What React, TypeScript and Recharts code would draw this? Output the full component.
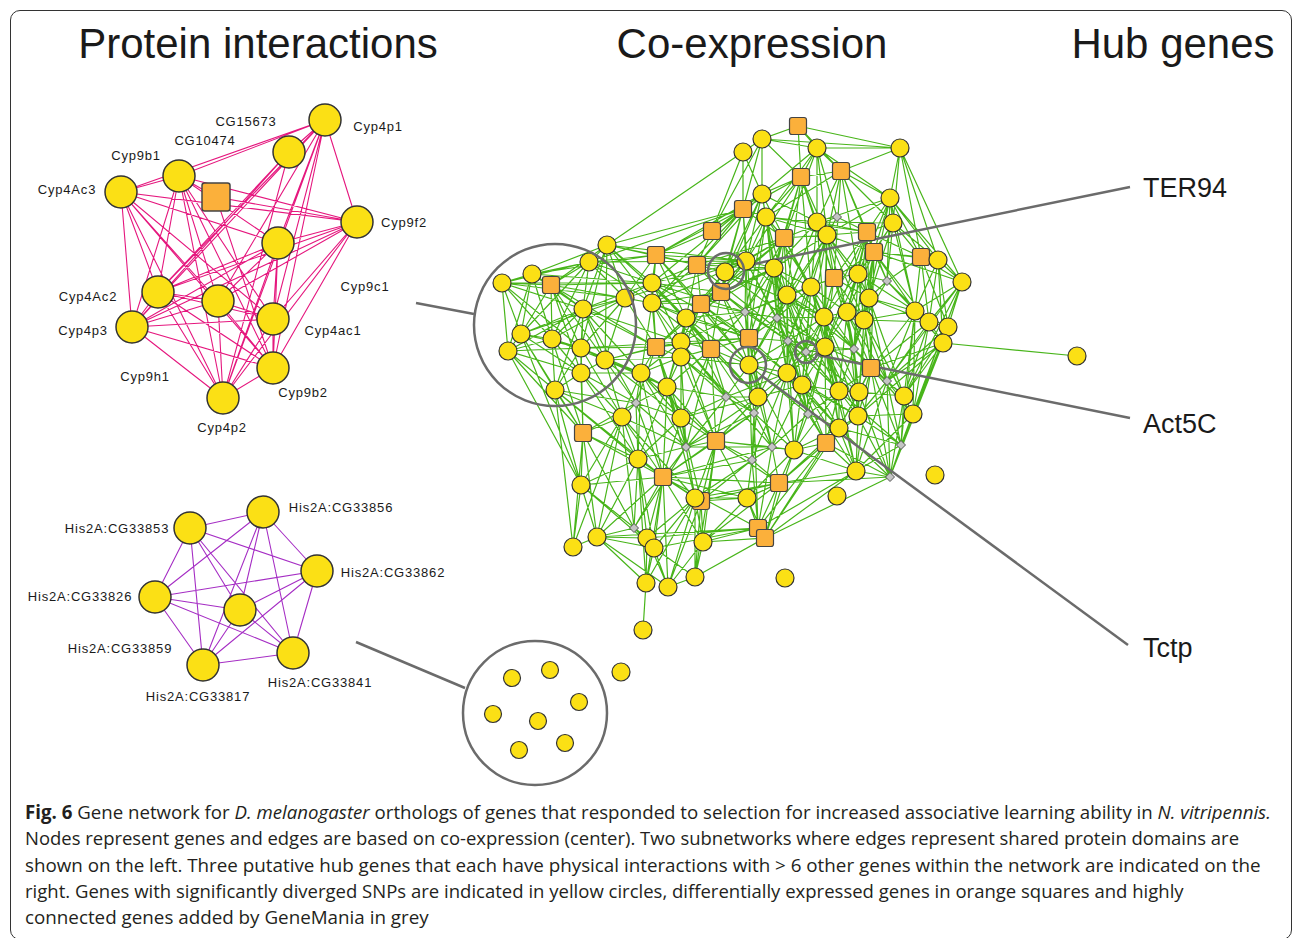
import React, { useLayoutEffect, useRef, useState } from 'react';
import { ComposedChart, Line, Scatter, XAxis, YAxis, ReferenceLine, ReferenceDot } from 'recharts';

const W = 1293;
const H = 938;

// section titles and hub labels
const titles = [
  { x: 258, y: 58, text: 'Protein interactions' },
  { x: 752, y: 58, text: 'Co-expression' },
  { x: 1173, y: 58, text: 'Hub genes' },
];
const hubLabels = [
  { x: 1143, y: 197, text: 'TER94' },
  { x: 1143, y: 433, text: 'Act5C' },
  { x: 1143, y: 657, text: 'Tctp' },
];

// protein interaction subnetwork (Cyp genes)
const cypNodes = [
  { x: 325, y: 120 }, { x: 289, y: 152 }, { x: 179, y: 176 }, { x: 121, y: 192 },
  { x: 216, y: 197 }, { x: 357, y: 222 }, { x: 278, y: 243 }, { x: 158, y: 292 },
  { x: 218, y: 301 }, { x: 273, y: 319 }, { x: 132, y: 327 }, { x: 273, y: 368 },
  { x: 223, y: 398 },
];
const cypSquare = [4];
const cypEdges: [number, number][] = [
  [0, 3], [0, 2], [0, 1], [0, 5], [0, 6], [0, 9], [0, 11], [0, 12], [0, 8], [0, 7], [0, 10],
  [1, 7], [1, 10], [1, 12],
  [2, 3], [2, 4], [2, 5], [2, 6], [2, 7], [2, 8], [2, 9], [2, 10], [2, 11], [2, 12],
  [3, 5], [3, 6], [3, 7], [3, 8], [3, 9], [3, 10], [3, 11], [3, 12],
  [4, 5], [4, 11],
  [5, 6], [5, 7], [5, 8], [5, 9], [5, 10], [5, 11], [5, 12],
  [6, 7], [6, 8], [6, 9], [6, 10], [6, 11], [6, 12],
  [7, 8], [7, 9], [7, 10], [7, 11], [7, 12],
  [8, 9], [8, 10], [8, 11], [8, 12],
  [9, 10], [9, 11], [9, 12],
  [10, 11], [10, 12], [11, 12],
];
const cypLabels = [
  { x: 246, y: 126, text: 'CG15673' }, { x: 378, y: 131, text: 'Cyp4p1' },
  { x: 205, y: 145, text: 'CG10474' }, { x: 136, y: 160, text: 'Cyp9b1' },
  { x: 67, y: 194, text: 'Cyp4Ac3' }, { x: 404, y: 227, text: 'Cyp9f2' },
  { x: 365, y: 291, text: 'Cyp9c1' }, { x: 88, y: 301, text: 'Cyp4Ac2' },
  { x: 83, y: 335, text: 'Cyp4p3' }, { x: 333, y: 335, text: 'Cyp4ac1' },
  { x: 145, y: 381, text: 'Cyp9h1' }, { x: 303, y: 397, text: 'Cyp9b2' },
  { x: 222, y: 432, text: 'Cyp4p2' },
];

// protein interaction subnetwork (His2A genes)
const hisNodes = [
  { x: 263, y: 512 }, { x: 190, y: 528 }, { x: 317, y: 571 }, { x: 155, y: 597 },
  { x: 240, y: 610 }, { x: 203, y: 665 }, { x: 293, y: 653 },
];
const hisEdges: [number, number][] = [
  [0, 1], [0, 2], [0, 3], [0, 4], [0, 5], [0, 6],
  [1, 2], [1, 3], [1, 4], [1, 5], [1, 6],
  [2, 3], [2, 4], [2, 5], [2, 6],
  [3, 4], [3, 5], [3, 6],
  [4, 5], [4, 6], [5, 6],
];
const hisLabels = [
  { x: 341, y: 512, text: 'His2A:CG33856' }, { x: 117, y: 533, text: 'His2A:CG33853' },
  { x: 393, y: 577, text: 'His2A:CG33862' }, { x: 80, y: 601, text: 'His2A:CG33826' },
  { x: 120, y: 653, text: 'His2A:CG33859' }, { x: 198, y: 701, text: 'His2A:CG33817' },
  { x: 320, y: 687, text: 'His2A:CG33841' },
];

// co-expression network: c = SNP gene, s = expressed gene, d = GeneMania gene
const coNodes: [number, number, string][] = [
  [743, 152, 'c'], [762, 139, 'c'], [798, 126, 's'], [817, 148, 'c'], [900, 148, 'c'],
  [801, 177, 's'], [841, 171, 's'], [762, 194, 'c'], [890, 198, 'c'], [743, 209, 's'],
  [766, 217, 'c'], [817, 222, 'c'], [837, 217, 'd'], [827, 235, 'c'], [893, 223, 'c'],
  [784, 238, 's'], [867, 232, 's'], [874, 252, 's'], [921, 257, 's'], [938, 260, 'c'],
  [746, 261, 'c'], [774, 268, 'c'], [962, 282, 'c'], [834, 278, 's'], [858, 274, 'c'],
  [887, 281, 'd'], [811, 287, 'c'], [787, 295, 'c'], [869, 298, 'c'], [745, 312, 'd'],
  [777, 318, 'd'], [824, 317, 'c'], [847, 312, 'c'], [864, 320, 'c'], [915, 311, 'c'],
  [929, 322, 'c'], [948, 327, 'c'], [943, 343, 'c'], [749, 338, 's'], [788, 341, 'd'],
  [806, 352, 'd'], [825, 347, 'c'], [854, 349, 'd'], [1077, 356, 'c'], [749, 365, 'c'],
  [871, 368, 's'], [887, 381, 'd'], [787, 373, 'c'], [802, 385, 'c'], [758, 397, 'c'],
  [839, 391, 'c'], [859, 392, 'c'], [904, 396, 'c'], [754, 413, 'd'], [808, 414, 'd'],
  [858, 416, 'c'], [913, 414, 'c'], [839, 428, 'c'], [772, 447, 'd'], [752, 460, 'd'],
  [794, 450, 'c'], [826, 443, 's'], [901, 445, 'd'], [856, 471, 'c'], [890, 477, 'd'],
  [935, 475, 'c'], [779, 483, 's'], [747, 498, 'c'], [837, 496, 'c'], [758, 528, 's'],
  [765, 538, 's'], [607, 245, 'c'], [589, 262, 'c'], [532, 274, 'c'], [502, 283, 'c'],
  [551, 285, 's'], [656, 255, 's'], [697, 265, 's'], [725, 272, 'c'], [721, 292, 's'],
  [652, 283, 'c'], [625, 298, 'c'], [652, 303, 'c'], [701, 304, 's'], [583, 309, 'c'],
  [686, 318, 'c'], [521, 334, 'c'], [552, 339, 'c'], [508, 351, 'c'], [581, 348, 'c'],
  [605, 360, 'c'], [656, 347, 's'], [681, 342, 'c'], [681, 357, 'c'], [711, 349, 's'],
  [581, 373, 'c'], [555, 390, 'c'], [641, 373, 'c'], [667, 387, 'c'], [636, 403, 'd'],
  [726, 397, 'd'], [622, 417, 'c'], [681, 418, 'c'], [583, 433, 's'], [716, 441, 's'],
  [686, 447, 'd'], [638, 459, 'c'], [663, 477, 's'], [581, 485, 'c'], [695, 498, 'c'],
  [701, 501, 's'], [634, 528, 'd'], [597, 537, 'c'], [573, 547, 'c'], [647, 538, 'c'],
  [654, 548, 'c'], [703, 542, 'c'], [646, 583, 'c'], [668, 587, 'c'], [695, 577, 'c'],
  [643, 630, 'c'], [621, 672, 'c'], [785, 578, 'c'], [712, 231, 's'],
];
const coAdjacency: [number, number[]][] = [
  [0, [71, 1, 9, 123, 7]],
  [1, [2, 3, 4, 7, 5, 9, 123]],
  [2, [3, 4, 5, 6]],
  [3, [4, 5, 6, 7, 8, 12, 10, 11, 13, 21]],
  [4, [8, 6, 18, 19, 22, 14]],
  [5, [6, 7, 10, 11, 13, 15, 9, 20, 21, 26, 27, 23]],
  [6, [8, 11, 13, 16, 17, 14, 10, 23, 24]],
  [7, [9, 10, 15, 123, 76, 77, 20, 11, 21, 78, 79]],
  [8, [14, 16, 17, 18, 19, 22, 24, 25, 11, 13, 28, 34]],
  [9, [76, 77, 123, 10, 15, 20, 71, 72, 80, 49, 78, 79, 82]],
  [10, [11, 13, 15, 16, 21, 26, 27, 20, 78, 30, 29, 38, 39]],
  [11, [13, 14, 16, 23, 24, 26, 31, 21, 27, 30]],
  [12, [13, 16, 15]],
  [13, [15, 16, 17, 23, 24, 26, 27, 31, 32, 33, 21, 40, 28, 30, 39, 41]],
  [14, [17, 18, 19, 24, 25, 28, 34, 16]],
  [15, [20, 21, 26, 27, 77, 78, 79, 30, 29, 40, 31, 38, 44, 83]],
  [16, [17, 18, 24, 25, 28, 32, 33, 23, 31, 41, 42]],
  [17, [18, 19, 22, 23, 24, 25, 28, 34, 35, 32, 33, 42, 45]],
  [18, [19, 22, 34, 35, 36, 25]],
  [19, [22, 34, 35, 36, 37]],
  [20, [21, 76, 77, 78, 79, 80, 81, 82, 83, 29, 71, 72, 44, 30, 39, 27]],
  [21, [26, 27, 29, 30, 31, 78, 79, 83, 85, 44, 39, 40, 47]],
  [22, [35, 36, 37, 52, 56, 34, 46, 62]],
  [23, [24, 26, 27, 28, 31, 32, 33, 41, 42]],
  [24, [25, 28, 31, 32, 33, 34, 41, 42, 45]],
  [25, [28, 33, 34, 35]],
  [26, [27, 29, 30, 31, 32, 39, 40, 41, 47, 42, 48, 50]],
  [27, [29, 30, 31, 38, 39, 40, 47, 48, 44, 41, 42, 50]],
  [28, [32, 33, 34, 35, 45, 42, 46, 52, 51]],
  [29, [30, 38, 39, 44, 83, 85, 94, 92, 53]],
  [30, [31, 38, 39, 40, 41, 44, 47, 48, 49, 50]],
  [31, [32, 33, 39, 40, 41, 42, 47, 48, 50, 45, 51, 55, 57]],
  [32, [33, 41, 42, 45, 50, 51, 55, 46]],
  [33, [34, 35, 42, 45, 51, 55, 46, 52, 56]],
  [34, [35, 36, 37, 45, 46, 52, 56, 62]],
  [35, [36, 37, 45, 46, 52, 56]],
  [36, [37, 52, 56, 46, 62, 64]],
  [37, [43, 45, 46, 52, 56, 55, 62, 64]],
  [38, [39, 44, 47, 49, 91, 92, 93, 94, 85, 58]],
  [39, [40, 41, 44, 47, 48, 49, 50, 54, 57, 60]],
  [40, [41, 42, 44, 47, 48, 50, 51, 54]],
  [41, [42, 45, 47, 48, 50, 51, 55, 57, 54, 60, 61, 63]],
  [42, [45, 46, 50, 51, 55]],
  [44, [47, 48, 49, 53, 54, 58, 59, 60, 100, 94, 93]],
  [45, [46, 50, 51, 52, 55, 56, 57, 63, 62, 64]],
  [46, [52, 56, 62, 64, 55, 63]],
  [47, [48, 49, 53, 54, 60, 61, 58, 57, 55, 59]],
  [48, [49, 50, 54, 57, 60, 61, 55, 63, 58]],
  [49, [53, 58, 59, 100, 104, 102, 105]],
  [50, [51, 54, 55, 57, 61, 63, 60, 62]],
  [51, [55, 57, 63, 64, 52]],
  [52, [56, 62, 64]],
  [53, [58, 59, 60, 100, 104, 105, 107]],
  [54, [57, 58, 60, 61]],
  [55, [57, 61, 63, 64, 62, 56]],
  [56, [62, 64, 63]],
  [57, [60, 61, 63, 66, 64, 62]],
  [58, [59, 60, 66, 104, 107, 109]],
  [59, [66, 67, 104, 107, 110, 69]],
  [60, [61, 66, 67, 63]],
  [61, [63, 66, 69, 70, 64]],
  [62, [64, 63]],
  [63, [64, 66, 69, 70]],
  [64, [66, 70]],
  [66, [67, 69, 70, 116, 109, 58, 104, 107, 110]],
  [67, [69, 70, 109, 110, 116, 104, 107, 59]],
  [69, [70, 116, 114, 115, 112, 59, 58, 53, 107]],
  [70, [116, 119, 60, 63, 57]],
  [71, [72, 73, 76, 80, 81, 84, 89, 90, 75, 77, 82, 85]],
  [72, [73, 74, 75, 80, 81, 84, 86, 87, 76, 82]],
  [73, [74, 75, 84, 86, 87, 88, 80, 76]],
  [74, [75, 86, 88, 87, 89, 80, 84, 81]],
  [75, [80, 81, 84, 86, 87, 89, 90, 95, 82, 91]],
  [76, [77, 80, 81, 82, 83, 85, 123, 44, 20, 9]],
  [77, [78, 79, 80, 82, 83, 85, 123, 40, 15, 21]],
  [78, [79, 83, 85, 31, 41]],
  [79, [80, 82, 83, 85, 91, 92, 39, 29, 38, 94, 44]],
  [80, [81, 82, 84, 91, 92, 85, 94, 38, 29]],
  [81, [82, 84, 87, 89, 90, 91]],
  [82, [83, 85, 91, 92, 93, 97, 94, 38]],
  [83, [85, 91, 92, 93, 94, 47, 29, 38, 44, 30]],
  [84, [86, 87, 89, 90, 95, 96, 91, 92, 97, 99]],
  [85, [91, 92, 93, 94, 98, 49, 38, 29, 44, 100]],
  [86, [87, 88, 89, 96, 103, 108, 84, 95, 81]],
  [87, [88, 89, 90, 95, 96, 103]],
  [88, [89, 95, 96, 108, 84, 103]],
  [89, [90, 95, 96, 97, 103, 91, 92, 98, 101]],
  [90, [91, 95, 97, 98, 99, 101, 92, 93, 102]],
  [91, [92, 93, 97, 98, 99, 102, 105]],
  [92, [93, 94, 97, 98, 102, 58, 100, 104]],
  [93, [94, 97, 98, 100, 102, 53, 104, 105]],
  [94, [98, 100, 102, 104, 105, 49, 53]],
  [95, [96, 99, 101, 103, 97, 106]],
  [96, [103, 101, 108, 99, 106, 107]],
  [97, [98, 99, 101, 102, 106, 105, 104, 107]],
  [98, [99, 100, 102, 105, 106, 107, 104, 109]],
  [99, [101, 106, 103, 107, 102, 105]],
  [100, [102, 104, 105, 107, 47]],
  [101, [103, 106, 107, 108, 111, 112, 105, 109]],
  [102, [104, 105, 106, 107, 109, 110, 116]],
  [103, [106, 108, 112, 113, 111, 107]],
  [104, [105, 107, 109, 110, 116, 58, 59, 60]],
  [105, [106, 107, 109, 111, 58, 53]],
  [106, [107, 108, 111, 114, 115, 109, 112]],
  [107, [108, 109, 110, 111, 112, 114, 115, 116]],
  [108, [112, 113, 114, 115, 96]],
  [109, [110, 116, 114, 115, 119]],
  [110, [116, 119, 118]],
  [111, [112, 114, 115]],
  [112, [113, 114, 115, 117, 118]],
  [113, [103, 96, 101]],
  [114, [115, 117, 118]],
  [115, [117, 118, 119]],
  [116, [119, 118]],
  [117, [120, 107, 106, 109]],
  [118, [109, 107]],
  [119, [118, 104]],
];

// unconnected genes in the lower circle
const looseNodes = [
  { x: 512, y: 678 }, { x: 550, y: 670 }, { x: 579, y: 702 }, { x: 493, y: 714 },
  { x: 538, y: 721 }, { x: 519, y: 750 }, { x: 565, y: 743 },
];

// highlight rings and pointer lines
const rings = [
  { x: 726, y: 271, r: 18 }, { x: 806, y: 352, r: 11 }, { x: 748, y: 365, r: 18 },
  { x: 555, y: 325, r: 81 }, { x: 535, y: 713, r: 72 },
];
const pointers = [
  [{ x: 1130, y: 187 }, { x: 744, y: 266 }],
  [{ x: 1130, y: 418 }, { x: 817, y: 355 }],
  [{ x: 1128, y: 645 }, { x: 762, y: 376 }],
  [{ x: 416, y: 303 }, { x: 474, y: 314 }],
  [{ x: 356, y: 642 }, { x: 465, y: 688 }],
];

// caption: baseline and target width of each line
const captionY = [819, 845, 872, 898, 924];
const captionW = [1245, 1214, 1235, 1159, 404];

type Pt = { x: number; y: number | null };

const toSegments = (nodes: { x: number; y: number }[], edges: [number, number][]): Pt[] =>
  edges.flatMap(([a, b]) => [nodes[a], nodes[b], { x: nodes[b].x, y: null }]);

const coPts = coNodes.map(([x, y]) => ({ x, y }));
const coEdges: [number, number][] = coAdjacency.flatMap(([a, list]) => list.map((b) => [a, b] as [number, number]));

const coCircles = coNodes.filter((n) => n[2] === 'c').map(([x, y]) => ({ x, y }));
const coSquares = coNodes.filter((n) => n[2] === 's').map(([x, y]) => ({ x, y }));
const coDiamonds = coNodes.filter((n) => n[2] === 'd').map(([x, y]) => ({ x, y }));
const cypCircles = cypNodes.filter((_, i) => !cypSquare.includes(i));
const cypSquares = cypNodes.filter((_, i) => cypSquare.includes(i));

const YELLOW = '#fbe015';
const ORANGE = '#fbb03b';

const circleShape = (r: number, sw: number) => (p: any) => (
  <circle cx={p.cx} cy={p.cy} r={r} fill={YELLOW} stroke="#333" strokeWidth={sw} />
);
const squareShape = (s: number, sw: number) => (p: any) => (
  <rect x={p.cx - s / 2} y={p.cy - s / 2} width={s} height={s} rx={2.5} fill={ORANGE} stroke="#444" strokeWidth={sw} />
);
const diamondShape = (p: any) => (
  <path d={`M${p.cx},${p.cy - 4.5}L${p.cx + 4.5},${p.cy}L${p.cx},${p.cy + 4.5}L${p.cx - 4.5},${p.cy}Z`} fill="#c4c4c4" stroke="#555" strokeWidth={1} />
);
const textShape = (size: number, anchor: string, spacing: number) => (p: any) => (
  <text x={p.cx} y={p.cy} fontSize={size} textAnchor={anchor} fill="#1a1a1a" letterSpacing={spacing} fontFamily="'Liberation Sans', Arial, sans-serif">
    {p.payload.text}
  </text>
);

const captionContent: React.ReactNode[] = [
  <>
    <tspan fontWeight="bold">Fig. 6</tspan> Gene network for <tspan fontStyle="italic">D. melanogaster</tspan> orthologs of genes that responded to selection for increased associative learning ability in <tspan fontStyle="italic">N. vitripennis.</tspan>
  </>,
  'Nodes represent genes and edges are based on co-expression (center). Two subnetworks where edges represent shared protein domains are',
  'shown on the left. Three putative hub genes that each have physical interactions with > 6 other genes within the network are indicated on the',
  'right. Genes with significantly diverged SNPs are indicated in yellow circles, differentially expressed genes in orange squares and highly',
  'connected genes added by GeneMania in grey',
];

const Caption: React.FC = () => {
  const refs = useRef<(SVGTextElement | null)[]>([]);
  const [scales, setScales] = useState<number[]>(captionW.map(() => 0.8));
  useLayoutEffect(() => {
    setScales(
      refs.current.map((el, i) => {
        if (!el) return 0.8;
        const w = el.getBBox().width;
        return w > 0 ? captionW[i] / w : 0.8;
      }),
    );
  }, []);
  return (
    <svg width={W} height={H} style={{ position: 'absolute', left: 0, top: 0, pointerEvents: 'none' }}>
      <g fontFamily="'Open Sans', sans-serif" fontSize={19} fill="#231f20">
        {captionContent.map((c, i) => (
          <g key={i} transform={`translate(25 ${captionY[i]}) scale(${scales[i]} 1)`}>
            <text ref={(el) => { refs.current[i] = el; }} x={0} y={0}>{c}</text>
          </g>
        ))}
      </g>
    </svg>
  );
};

const App: React.FC = () => {
  return (
    <div style={{ position: 'absolute', left: 0, top: 0, width: W, height: H, background: '#fff' }}>
      <div
        style={{
          position: 'absolute', left: 10, top: 10, width: 1282, height: 930,
          border: '1.3px solid #333', borderRadius: 10, boxSizing: 'border-box',
        }}
      />
      <div style={{ position: 'absolute', left: 0, top: 0 }}>
        <ComposedChart width={W} height={H} margin={{ top: 0, right: 0, bottom: 0, left: 0 }}>
          <XAxis type="number" dataKey="x" domain={[0, W]} hide allowDataOverflow />
          <YAxis type="number" dataKey="y" domain={[0, H]} reversed hide allowDataOverflow />

          <Line data={toSegments(cypNodes, cypEdges)} dataKey="y" stroke="#e5177e" strokeWidth={1.1} dot={false} activeDot={false} connectNulls={false} isAnimationActive={false} />
          <Line data={toSegments(hisNodes, hisEdges)} dataKey="y" stroke="#a52dc4" strokeWidth={1.1} dot={false} activeDot={false} connectNulls={false} isAnimationActive={false} />
          <Line data={toSegments(coPts, coEdges)} dataKey="y" stroke="#48b51a" strokeWidth={1.2} dot={false} activeDot={false} connectNulls={false} isAnimationActive={false} />

          {pointers.map((seg, i) => (
            <ReferenceLine key={`p${i}`} segment={seg} stroke="#6b6b6b" strokeWidth={2.5} ifOverflow="visible" />
          ))}

          <Scatter data={cypSquares} dataKey="y" shape={squareShape(28, 1.5)} isAnimationActive={false} />
          <Scatter data={cypCircles} dataKey="y" shape={circleShape(16, 1.5)} isAnimationActive={false} />
          <Scatter data={hisNodes} dataKey="y" shape={circleShape(16, 1.5)} isAnimationActive={false} />
          <Scatter data={coSquares} dataKey="y" shape={squareShape(17, 1.2)} isAnimationActive={false} />
          <Scatter data={coCircles} dataKey="y" shape={circleShape(9, 1.2)} isAnimationActive={false} />
          <Scatter data={looseNodes} dataKey="y" shape={circleShape(8.5, 1.2)} isAnimationActive={false} />
          <Scatter data={coDiamonds} dataKey="y" shape={diamondShape} isAnimationActive={false} />

          {rings.map((r, i) => (
            <ReferenceDot key={`r${i}`} x={r.x} y={r.y} r={r.r} fill="none" stroke="#6b6b6b" strokeWidth={2.5} ifOverflow="visible" />
          ))}

          <Scatter data={cypLabels} dataKey="y" shape={textShape(13, 'middle', 0.8)} isAnimationActive={false} />
          <Scatter data={hisLabels} dataKey="y" shape={textShape(13, 'middle', 0.8)} isAnimationActive={false} />
          <Scatter data={titles} dataKey="y" shape={textShape(42, 'middle', 0)} isAnimationActive={false} />
          <Scatter data={hubLabels} dataKey="y" shape={textShape(27, 'start', 0)} isAnimationActive={false} />
        </ComposedChart>
      </div>
      <Caption />
    </div>
  );
};

export default App;
